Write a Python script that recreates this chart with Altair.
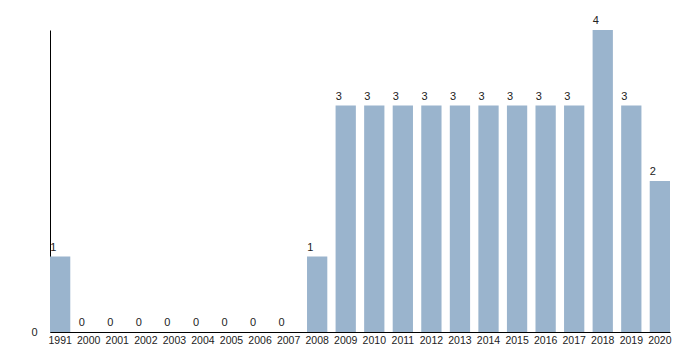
import altair as alt
import pandas as pd

years = ["1991", "2000", "2001", "2002", "2003", "2004", "2005", "2006", "2007",
         "2008", "2009", "2010", "2011", "2012", "2013", "2014", "2015", "2016",
         "2017", "2018", "2019", "2020"]
counts = [1, 0, 0, 0, 0, 0, 0, 0, 0, 1, 3, 3, 3, 3, 3, 3, 3, 3, 3, 4, 3, 2]

df = pd.DataFrame({"year": years, "count": counts})

FONT = "Liberation Sans"

x = alt.X("year:N", sort=years, title=None,
          scale=alt.Scale(paddingInner=0.29, paddingOuter=0),
          axis=alt.Axis(labelAngle=0, ticks=False, domainColor="black",
                        labelColor="#222", labelFontSize=10.5, labelFont=FONT,
                        labelPadding=3))
y = alt.Y("count:Q", title=None, scale=alt.Scale(domain=[0, 4], nice=False),
          axis=alt.Axis(values=[0], format="d", ticks=False, grid=False, domainColor="black",
                        labelColor="#222", labelFontSize=11, labelFont=FONT,
                        labelPadding=13))

bars = alt.Chart(df).mark_bar(color="#9ab4cd").encode(x=x, y=y)
labels = alt.Chart(df).mark_text(align="left", baseline="bottom", dx=-10, dy=-4,
                                 fontSize=11, font=FONT, color="#222").encode(
    x=alt.X("year:N", sort=years), y="count:Q", text="count:Q")

chart = (bars + labels).properties(
    width=620, height=302,
    autosize=alt.AutoSizeParams(type="none"),
    padding={"left": 50, "top": 30, "right": 30, "bottom": 18},
).configure_view(stroke=None)

chart.save("out.html", embed_options={"renderer": "svg", "actions": False})
